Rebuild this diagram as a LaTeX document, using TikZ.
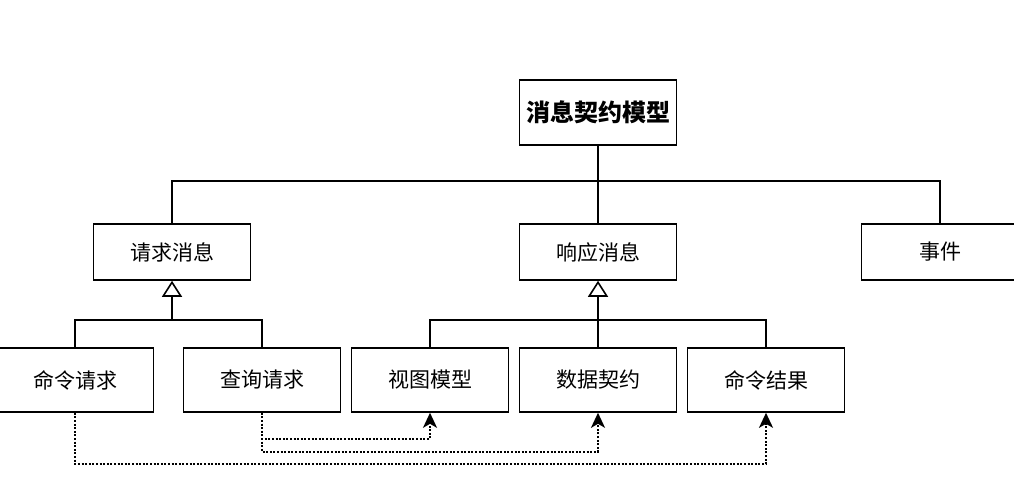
\documentclass[tikz,border=0pt]{standalone}
\usepackage{fontspec}
\setmainfont{Noto Sans CJK SC}
\usetikzlibrary{arrows.meta}
\tikzset{
  box/.style={draw, line width=1.6pt, minimum width=157pt, minimum height=56pt, inner sep=0pt, font=\fontsize{21}{25}\selectfont},
  link/.style={line width=1.6pt},
  isa/.style={link, -{Triangle[open, length=16pt, width=20pt]}},
  uses/.style={line width=2pt, dash pattern=on 2pt off 1.6pt, -{Stealth[length=15pt, width=14pt, inset=4pt]}}
}
\begin{document}
\begin{tikzpicture}[x=1pt, y=-1pt]
\useasboundingbox (0,0) rectangle (1014,477);
\clip (0,0) rectangle (1014,477);
\coordinate (bus) at (0,181);
\coordinate (fork) at (0,320);
\node[box, minimum height=65pt, font=\fontsize{24}{28}\selectfont\bfseries] (model) at (598,112.5) {消息契约模型};
\node[box] (req) at (172,252) {请求消息};
\node[box] (resp) at (598,252) {响应消息};
\node[box] (event) at (940,252) {事件};
\node[box, minimum height=64pt] (cmd) at (75,380) {命令请求};
\node[box, minimum height=64pt] (query) at (262,380) {查询请求};
\node[box, minimum height=64pt] (view) at (430,380) {视图模型};
\node[box, minimum height=64pt] (contract) at (598,380) {数据契约};
\node[box, minimum height=64pt] (result) at (766,380) {命令结果};
\draw[link] (model) -- (resp);
\draw[link] (req.north) -- (req.north |- bus) -| (event.north);
\draw[link] (cmd.north) |- (query.north |- fork) -- (query.north);
\draw[isa] (req.south |- fork) -- (req.south);
\draw[link] (view.north) |- (result.north |- fork) -- (result.north);
\draw[isa] (contract.north) -- (resp.south);
\draw[uses] (query.south) -- ++(0,26) -| (view.south);
\draw[uses] (query.south) -- ++(0,39) -| (contract.south);
\draw[uses] (cmd.south) -- ++(0,51) -| (result.south);
\end{tikzpicture}
\end{document}
